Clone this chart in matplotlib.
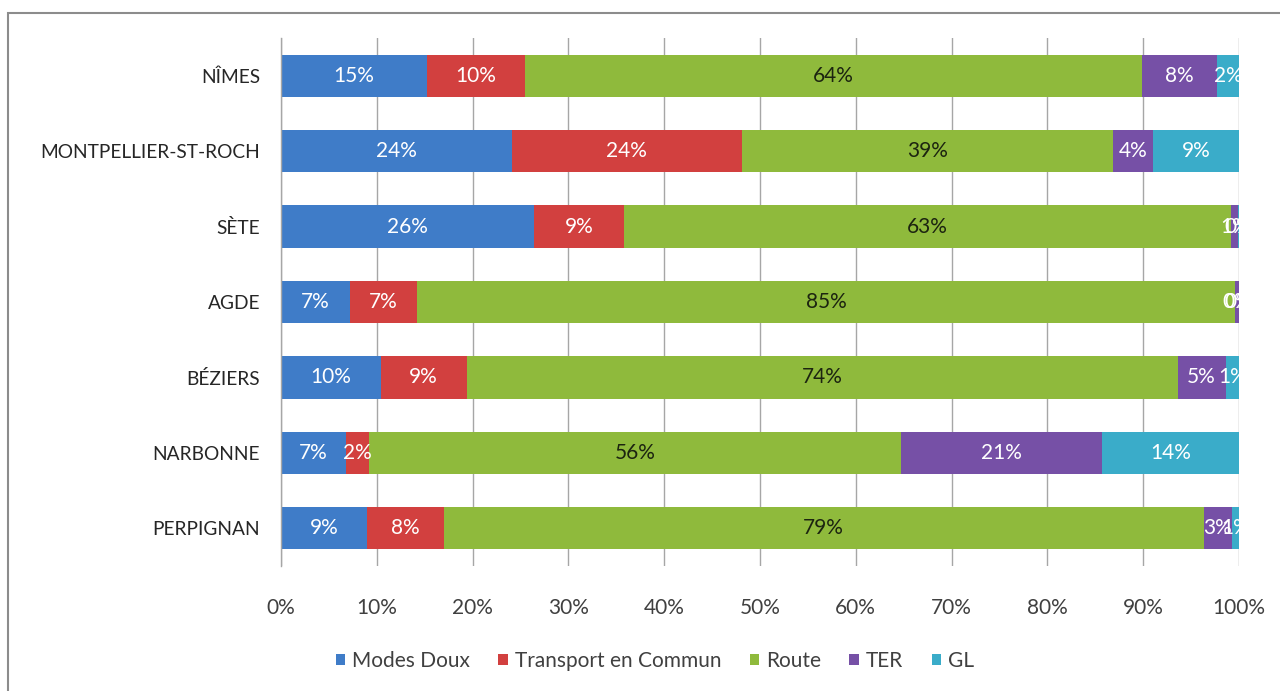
import matplotlib
matplotlib.use("Agg")
import matplotlib.pyplot as plt
from matplotlib.patches import Rectangle
import numpy as np

# Modal share by station (percent of trips)
stations = ["NÎMES", "MONTPELLIER-ST-ROCH", "SÈTE", "AGDE", "BÉZIERS", "NARBONNE", "PERPIGNAN"]
modes_doux = [15.2, 24.1, 26.4, 7.2, 10.4, 6.8, 9.0]
transport_commun = [10.3, 24.0, 9.4, 7.0, 9.0, 2.4, 8.0]
route = [64.4, 38.7, 63.4, 85.4, 74.2, 55.5, 79.3]
ter = [7.8, 4.2, 0.7, 0.4, 5.0, 21.0, 3.0]
gl = [2.3, 9.0, 0.1, 0.0, 1.4, 14.3, 0.7]

series_names = ["Modes Doux", "Transport en Commun", "Route", "TER", "GL"]
series_values = [modes_doux, transport_commun, route, ter, gl]
colors = ["#3f7cc8", "#d2403f", "#8fba3c", "#7650a6", "#3aacc9"]
label_colors = ["white", "white", "#1c2410", "white", "white"]

x_ticks = [0, 10, 20, 30, 40, 50, 60, 70, 80, 90, 100]
x_tick_labels = [f"{t}%" for t in x_ticks]

font = "Lato"
plt.rcParams["font.family"] = [font, "DejaVu Sans"]

fig = plt.figure(figsize=(12.8, 6.91), dpi=100)
fig.patch.set_facecolor("white")

# outer chart frame
fig.patches.append(Rectangle((8 / 1280, -0.05), 1.1, (691 - 13) / 691 + 0.05,
                             transform=fig.transFigure, fill=False,
                             edgecolor="#8c8c8c", linewidth=1.5))

ax = fig.add_axes([281 / 1280, 125 / 691, 958 / 1280, 528 / 691])

y = np.arange(len(stations))
left = np.zeros(len(stations))
for name, vals, col, lcol in zip(series_names, series_values, colors, label_colors):
    vals = np.array(vals)
    ax.barh(y, vals, left=left, height=0.56, color=col, label=name, zorder=2)
    for yi, (l, v) in enumerate(zip(left, vals)):
        ax.text(l + v / 2, yi, f"{round(v):d}%", ha="center", va="center",
                color=lcol, fontsize=15, clip_on=True, zorder=3)
    left += vals

ax.set_xlim(0, 100)
ax.set_ylim(len(stations) - 0.5, -0.5)
ax.set_xticks(x_ticks)
ax.set_xticklabels(x_tick_labels, fontsize=15, color="#404040")
ax.set_yticks(y)
ax.set_yticklabels(stations, fontsize=13.8, color="#262626")
ax.tick_params(axis="x", length=0, pad=23)
ax.tick_params(axis="y", length=0, pad=15)
ax.grid(axis="x", color="#a6a6a6", linewidth=1.0, zorder=0)
ax.set_axisbelow(True)
for s in ["top", "right", "bottom"]:
    ax.spines[s].set_visible(False)
ax.spines["left"].set_color("#a6a6a6")
ax.spines["left"].set_linewidth(1.0)

leg = fig.legend(loc="center", bbox_to_anchor=(655 / 1280, 1 - 661 / 691), ncol=5,
                 frameon=False, fontsize=15, handlelength=0.45, handleheight=0.45,
                 handletextpad=0.35, columnspacing=1.35)
for t in leg.get_texts():
    t.set_color("#404040")

fig.savefig("out.png", dpi=100)
